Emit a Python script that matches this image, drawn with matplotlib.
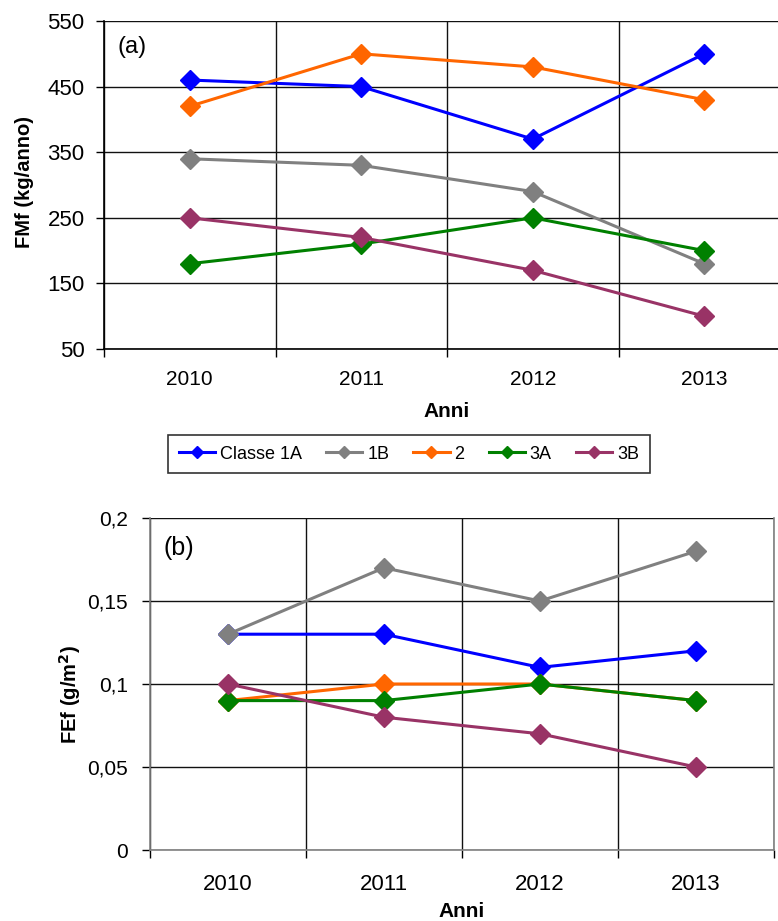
import matplotlib
matplotlib.use("Agg")
import matplotlib.pyplot as plt
from matplotlib.lines import Line2D

plt.rcParams['font.family'] = ['Liberation Sans', 'DejaVu Sans']

years = ["2010", "2011", "2012", "2013"]
series_names = ["Classe 1A", "1B", "2", "3A", "3B"]
colors = ["#0000FF", "#808080", "#FF6600", "#008000", "#993366"]

# FMf (kg/anno)
fmf_1a = [460, 450, 370, 500]
fmf_1b = [340, 330, 290, 180]
fmf_2 = [420, 500, 480, 430]
fmf_3a = [180, 210, 250, 200]
fmf_3b = [250, 220, 170, 100]

# FEf (g/m2)
fef_1a = [0.13, 0.13, 0.11, 0.12]
fef_1b = [0.13, 0.17, 0.15, 0.18]
fef_2 = [0.09, 0.10, 0.10, 0.09]
fef_3a = [0.09, 0.09, 0.10, 0.09]
fef_3b = [0.10, 0.08, 0.07, 0.05]

fmf_ticks = [50, 150, 250, 350, 450, 550]
fef_ticks = [0, 0.05, 0.1, 0.15, 0.2]
fef_tick_labels = ["0", "0,05", "0,1", "0,15", "0,2"]

W, H = 778, 921
fig = plt.figure(figsize=(W / 100, H / 100), dpi=100)


def px_axes(left, top, right, bottom):
    return fig.add_axes([left / W, 1 - bottom / H, (right - left) / W, (bottom - top) / H])


def style_axes(ax, spine_color, tick_pad_x, tick_pad_y, xsize, ysize):
    x = range(len(years))
    ax.set_xlim(-0.5, len(years) - 0.5)
    bounds = [i - 0.5 for i in range(len(years) + 1)]
    ax.set_xticks(bounds)
    ax.set_xticklabels([])
    ax.set_xticks(list(x), years, minor=True)
    ax.tick_params(axis='x', which='major', direction='out', length=6, width=1, color='black')
    ax.tick_params(axis='x', which='minor', length=0, pad=tick_pad_x, labelsize=xsize)
    ax.tick_params(axis='y', direction='out', length=6, width=1, color='black',
                   pad=tick_pad_y, labelsize=ysize)
    ax.grid(True, which='major', color='#111111', linewidth=1)
    ax.set_axisbelow(True)
    ax.spines['top'].set_visible(False)
    for s in ['left', 'bottom', 'right']:
        ax.spines[s].set_color(spine_color)
        ax.spines[s].set_linewidth(1.2)


# Panel (a)
ax1 = px_axes(104, 21, 790, 349)
for vals, c in zip([fmf_1a, fmf_1b, fmf_2, fmf_3a, fmf_3b], colors):
    ax1.plot(range(len(years)), vals, color=c, lw=2.2, marker='D', ms=10.5,
             markeredgecolor=c, clip_on=False)
ax1.set_ylim(50, 550)
ax1.set_yticks(fmf_ticks)
style_axes(ax1, 'black', 15, 8, 15, 16)
ax1.set_ylabel("FMf (kg/anno)", fontsize=14.5, fontweight='bold')
ax1.yaxis.set_label_coords(-0.1166, 0.509)
ax1.yaxis.label.set_va('center')
ax1.set_xlabel("Anni", fontsize=15, fontweight='bold')
ax1.xaxis.set_label_coords(0.5, -0.192)
ax1.xaxis.label.set_va('center')
ax1.text(132 / W, 1 - 47 / H, "(a)", transform=fig.transFigure, fontsize=17,
         va='center', ha='center')

# Legend
handles = [Line2D([0], [0], color=c, lw=2.2, marker='D', ms=6.5, markeredgecolor=c)
           for c in colors]
leg = fig.legend(handles, series_names, loc='center', bbox_to_anchor=(409 / W, 1 - 454 / H),
                 ncol=5, fontsize=13, frameon=True, fancybox=False, edgecolor='black',
                 handlelength=2.0, handletextpad=0.28, columnspacing=1.33,
                 borderpad=0.6, borderaxespad=0)
leg.get_frame().set_linewidth(1.2)

# Panel (b)
ax2 = px_axes(150, 518, 774, 850)
for vals, c in zip([fef_1a, fef_1b, fef_2, fef_3a, fef_3b], colors):
    ax2.plot(range(len(years)), vals, color=c, lw=2.2, marker='D', ms=10.5,
             markeredgecolor=c, clip_on=False)
ax2.set_ylim(0, 0.2)
ax2.set_yticks(fef_ticks, fef_tick_labels)
style_axes(ax2, '#808080', 17, 10, 16, 15)
ax2.set_ylabel("FEf (g/m$\\mathbf{^2}$)", fontsize=14.5, fontweight='bold')
ax2.yaxis.set_label_coords(-0.128, 0.467)
ax2.yaxis.label.set_va('center')
ax2.set_xlabel("Anni", fontsize=15, fontweight='bold')
ax2.xaxis.set_label_coords(0.5, -0.184)
ax2.xaxis.label.set_va('center')
ax2.text(179 / W, 1 - 548 / H, "(b)", transform=fig.transFigure, fontsize=18,
         va='center', ha='center')

fig.savefig("out.png", dpi=100)
